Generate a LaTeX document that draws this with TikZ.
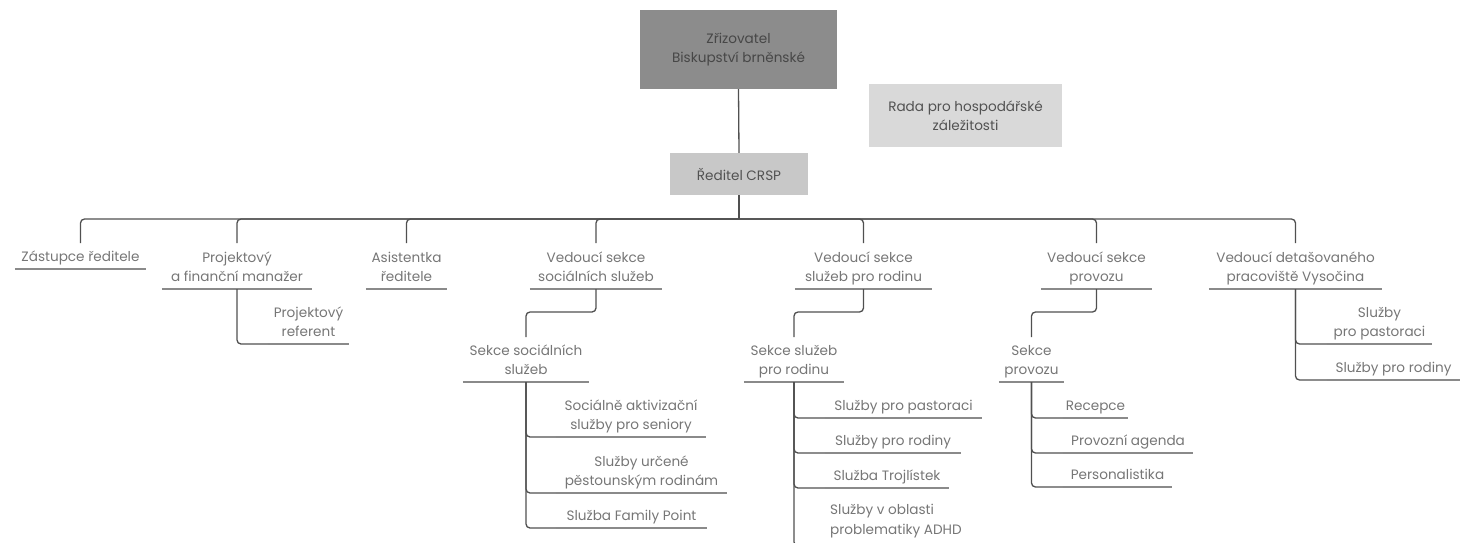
\documentclass[tikz,border=0pt]{standalone}
\usepackage{fontspec}
\setmainfont{Poppins}
\usetikzlibrary{calc}
\definecolor{txt}{HTML}{767676}
\definecolor{conncol}{HTML}{505050}
\definecolor{ulcol}{HTML}{8A8A8A}
\definecolor{topfill}{HTML}{8C8C8C}
\definecolor{radafill}{HTML}{D9D9D9}
\definecolor{redfill}{HTML}{C8C8C8}
\newcommand{\lf}{\fontsize{13.6}{19.5}\selectfont}
\tikzset{
  conn/.style={draw=conncol, line width=1.3pt, rounded corners=4pt},
  uline/.style={draw=ulcol, line width=2.6pt},
  lab/.style={font=\lf, text=txt, align=center, inner xsep=0pt, inner ysep=4pt,
    text depth=3pt, anchor=south, minimum width=#1,
    append after command={(\tikzlastnode.south west) edge[uline] (\tikzlastnode.south east)}},
  boxn/.style={font=\lf, align=center, inner sep=0pt, draw=none}
}
\begin{document}
\begin{tikzpicture}[x=1pt,y=-1pt]
\useasboundingbox (0,0) rectangle (1462,542);
% top boxes
\node[boxn, fill=topfill, text=black!72, minimum width=197pt, minimum height=79pt] (zr) at (738.5,49.5) {Zřizovatel\\Biskupství brněnské};
\node[boxn, fill=radafill, text=black!68, minimum width=193pt, minimum height=63pt] (rada) at (965.5,115.5) {Rada pro hospodářské\\záležitosti};
\node[boxn, fill=redfill, text=black!68, minimum width=138pt, minimum height=42pt] (rd) at (739,174) {Ředitel CRSP};
% level 1
\node[lab=131pt] (zas) at (80.5,269) {Zástupce ředitele};
\node[lab=150pt] (pf) at (237,289) {Projektový\\a finanční manažer};
\node[lab=81pt] (as) at (406.5,289) {Asistentka\\ředitele};
\node[lab=132pt] (vs) at (596,289) {Vedoucí sekce\\sociálních služeb};
\node[lab=137pt] (vr) at (863.5,289) {Vedoucí sekce\\služeb pro rodinu};
\node[lab=111pt] (vp) at (1096.5,289) {Vedoucí sekce\\provozu};
\node[lab=173pt] (vd) at (1295.5,289) {Vedoucí detašovaného\\pracoviště Vysočina};
% level 2
\node[lab=81pt] (pr) at (308.5,344) {Projektový\\referent};
\node[lab=126pt] (ss) at (526,382) {Sekce sociálních\\služeb};
\node[lab=100pt] (sr) at (794,382) {Sekce služeb\\pro rodinu};
\node[lab=65pt] (sp) at (1031.5,382) {Sekce\\provozu};
\node[lab=105pt] (dpast) at (1379.5,344) {Služby\\pro pastoraci};
\node[lab=133pt] (drod) at (1393.5,380) {Služby pro rodiny};
% level 3
\node[lab=150pt] (s1) at (631,437) {Sociálně aktivizační\\služby pro seniory};
\node[lab=171pt] (s2) at (641.5,493) {Služby určené\\pěstounským rodinám};
\node[lab=151pt] (s3) at (631.5,528) {Služba Family Point};
\node[lab=157pt] (r1) at (903.5,418) {Služby pro pastoraci};
\node[lab=136pt] (r2) at (893,453) {Služby pro rodiny};
\node[lab=124pt] (r3) at (887,488) {Služba Trojlístek};
\node[font=\lf, text=txt, align=left, inner sep=0pt, anchor=base west] (r4) at (830,534) {Služby v oblasti\\problematiky ADHD};
\node[lab=65pt] (p1) at (1095.5,418) {Recepce};
\node[lab=130pt] (p2) at (1128,453) {Provozní agenda};
\node[lab=109pt] (p3) at (1117.5,487) {Personalistika};
% connectors
\coordinate (bus) at (739,219);
\coordinate (drop) at (0,243);
\coordinate (l2top) at (0,337);
\coordinate (r4ul) at (825,546);
\draw[conn] (zr.south) -- (rd.north);
\draw[conn] (rd.south) -- (bus);
\foreach \n in {zas,pf,as,vs,vr,vp,vd} {
  \draw[conn] (bus) -| (\n.north |- drop);
}
\draw[conn] (pf.south) |- (pr.south west);
\draw[conn] (vs.south) -- ++(0,23) -| (ss.north |- l2top);
\draw[conn] (vr.south) -- ++(0,23) -| (sr.north |- l2top);
\draw[conn] (vp.south) -- ++(0,23) -| (sp.north |- l2top);
\foreach \c in {s1,s2,s3} { \draw[conn] (ss.south) |- (\c.south west); }
\foreach \c in {r1,r2,r3} { \draw[conn] (sr.south) |- (\c.south west); }
\draw[conn] (sr.south) |- (r4ul);
\draw[uline] (r4ul) -- ++(160,0);
\foreach \c in {p1,p2,p3} { \draw[conn] (sp.south) |- (\c.south west); }
\foreach \c in {dpast,drod} { \draw[conn] (vd.south) |- (\c.south west); }
\end{tikzpicture}
\end{document}
